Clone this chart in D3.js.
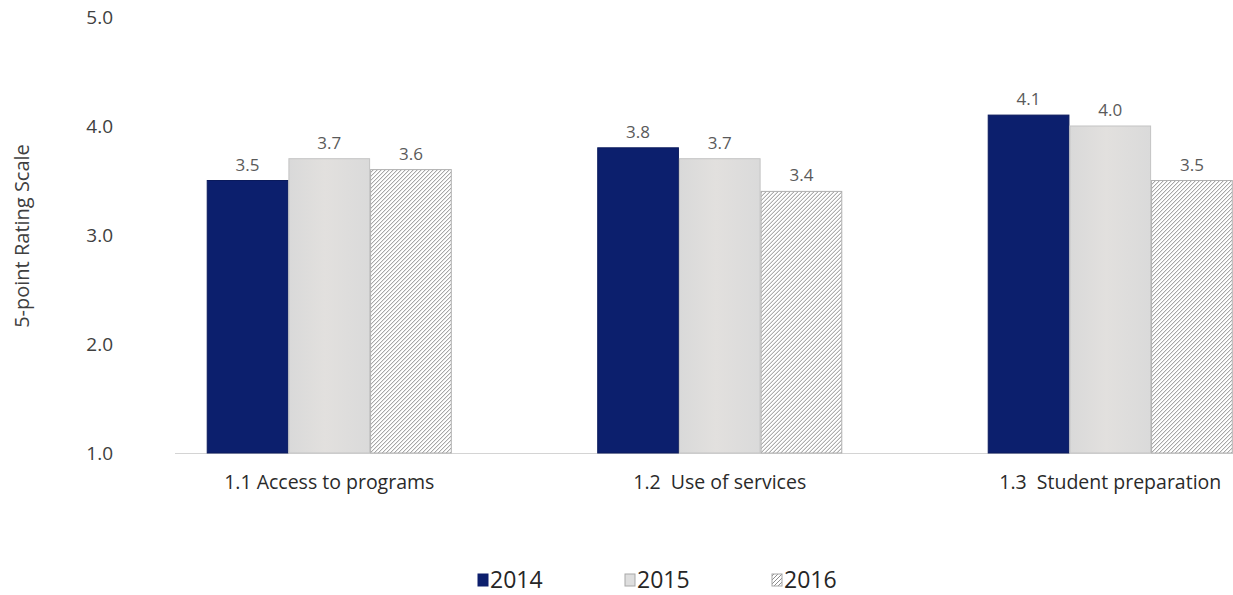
<!DOCTYPE html>
<html>
<head>
<meta charset="utf-8">
<script src="https://cdn.jsdelivr.net/npm/d3@7"></script>
<style>
  html, body { margin: 0; padding: 0; background: #ffffff; }
  svg { display: block; font-family: "Open Sans", "Liberation Sans", sans-serif; }
</style>
</head>
<body>
<svg id="chart" width="1233" height="595"></svg>
<script>
// Mean ratings per category and survey year
const categories = ["1.1 Access to programs", "1.2  Use of services", "1.3  Student preparation"];
const years = ["2014", "2015", "2016"];
const values2014 = [3.5, 3.8, 4.1];
const values2015 = [3.7, 3.7, 4.0];
const values2016 = [3.6, 3.4, 3.5];
const yTicks = [1, 2, 3, 4, 5];
const yTitle = "5-point Rating Scale";

const seriesValues = [values2014, values2015, values2016];

const svg = d3.select("#chart");
const W = 1233, H = 595;

// Fill patterns
const defs = svg.append("defs");
const hatch = defs.append("pattern")
  .attr("id", "hatch")
  .attr("patternUnits", "userSpaceOnUse")
  .attr("width", 4).attr("height", 4);
hatch.append("rect").attr("width", 4).attr("height", 4).attr("fill", "#ffffff");
hatch.append("path")
  .attr("d", "M-1,1 l2,-2 M0,4 l4,-4 M3,5 l2,-2")
  .attr("stroke", "#808080").attr("stroke-width", 0.9);

const grey = defs.append("linearGradient").attr("id", "greyFill")
  .attr("x1", 0).attr("x2", 1).attr("y1", 0).attr("y2", 0);
grey.append("stop").attr("offset", "0%").attr("stop-color", "#d9d9d9");
grey.append("stop").attr("offset", "45%").attr("stop-color", "#e2e0de");
grey.append("stop").attr("offset", "100%").attr("stop-color", "#dadada");

const fills = ["#0c1f6d", "url(#greyFill)", "url(#hatch)"];
const strokes = ["#0a1a5c", "#c4c4c4", "#b0b0b0"];

// Scales
const y = d3.scaleLinear().domain([1, 5]).range([453, 17]);
const x0 = d3.scaleBand().domain(categories)
  .range([134, 1305.5]).paddingInner(0.375).paddingOuter(0.1875);
const x1 = d3.scaleBand().domain(years)
  .range([0, x0.bandwidth()]).paddingInner(0.012);

// Baseline
svg.append("line")
  .attr("x1", 175).attr("x2", W)
  .attr("y1", y(1) + 0.5).attr("y2", y(1) + 0.5)
  .attr("stroke", "#d4d4d4").attr("stroke-width", 1);

// Y axis tick labels (no axis line)
const yAxis = d3.axisLeft(y).tickValues(yTicks).tickFormat(d3.format(".1f")).tickSize(0).tickPadding(0);
const yG = svg.append("g").attr("transform", "translate(113,0)").call(yAxis);
yG.select(".domain").remove();
yG.selectAll("text")
  .attr("font-size", 19).attr("fill", "#404040")
  .attr("font-family", "'Open Sans', sans-serif");

// Y title
svg.append("text")
  .attr("transform", "translate(29,236) rotate(-90)")
  .attr("text-anchor", "middle")
  .attr("font-size", 20).attr("fill", "#404040")
  .text(yTitle);

// Bars
const groups = svg.append("g").selectAll("g")
  .data(categories)
  .join("g")
  .attr("transform", d => `translate(${x0(d)},0)`);

groups.selectAll("rect")
  .data((c, ci) => years.map((yr, si) => ({ yr, si, v: seriesValues[si][ci] })))
  .join("rect")
  .attr("x", d => x1(d.yr))
  .attr("y", d => y(d.v))
  .attr("width", x1.bandwidth())
  .attr("height", d => y(1) - y(d.v))
  .attr("fill", d => fills[d.si])
  .attr("stroke", d => strokes[d.si])
  .attr("stroke-width", 1);

// Value labels
groups.selectAll("text.val")
  .data((c, ci) => years.map((yr, si) => ({ yr, si, v: seriesValues[si][ci] })))
  .join("text")
  .attr("class", "val")
  .attr("x", d => x1(d.yr) + x1.bandwidth() / 2)
  .attr("y", d => y(d.v) - 10)
  .attr("text-anchor", "middle")
  .attr("font-size", 17).attr("fill", "#5a5a5a")
  .text(d => d3.format(".1f")(d.v));

// Category labels
svg.append("g").selectAll("text")
  .data(categories)
  .join("text")
  .attr("x", d => x0(d) + x0.bandwidth() / 2)
  .attr("y", 489)
  .attr("text-anchor", "middle")
  .attr("font-size", 19.5).attr("fill", "#2a2a2a")
  .attr("xml:space", "preserve")
  .style("white-space", "pre")
  .text(d => d);

// Legend
const legendX = d3.scalePoint().domain(years).range([478, 772]);
const leg = svg.append("g").selectAll("g")
  .data(years)
  .join("g")
  .attr("transform", d => `translate(${legendX(d)},580)`);
leg.append("rect")
  .attr("x", 0).attr("y", -6).attr("width", 10).attr("height", 12)
  .attr("fill", (d, i) => i === 0 ? "#0c1f6d" : i === 1 ? "#dedede" : "url(#hatch)")
  .attr("stroke", (d, i) => i === 0 ? "#0c1f6d" : "#a8a8a8")
  .attr("stroke-width", 1);
leg.append("text")
  .attr("x", 12).attr("y", 0)
  .attr("dy", "0.36em")
  .attr("font-size", 23).attr("fill", "#262626")
  .text(d => d);
</script>
</body>
</html>
